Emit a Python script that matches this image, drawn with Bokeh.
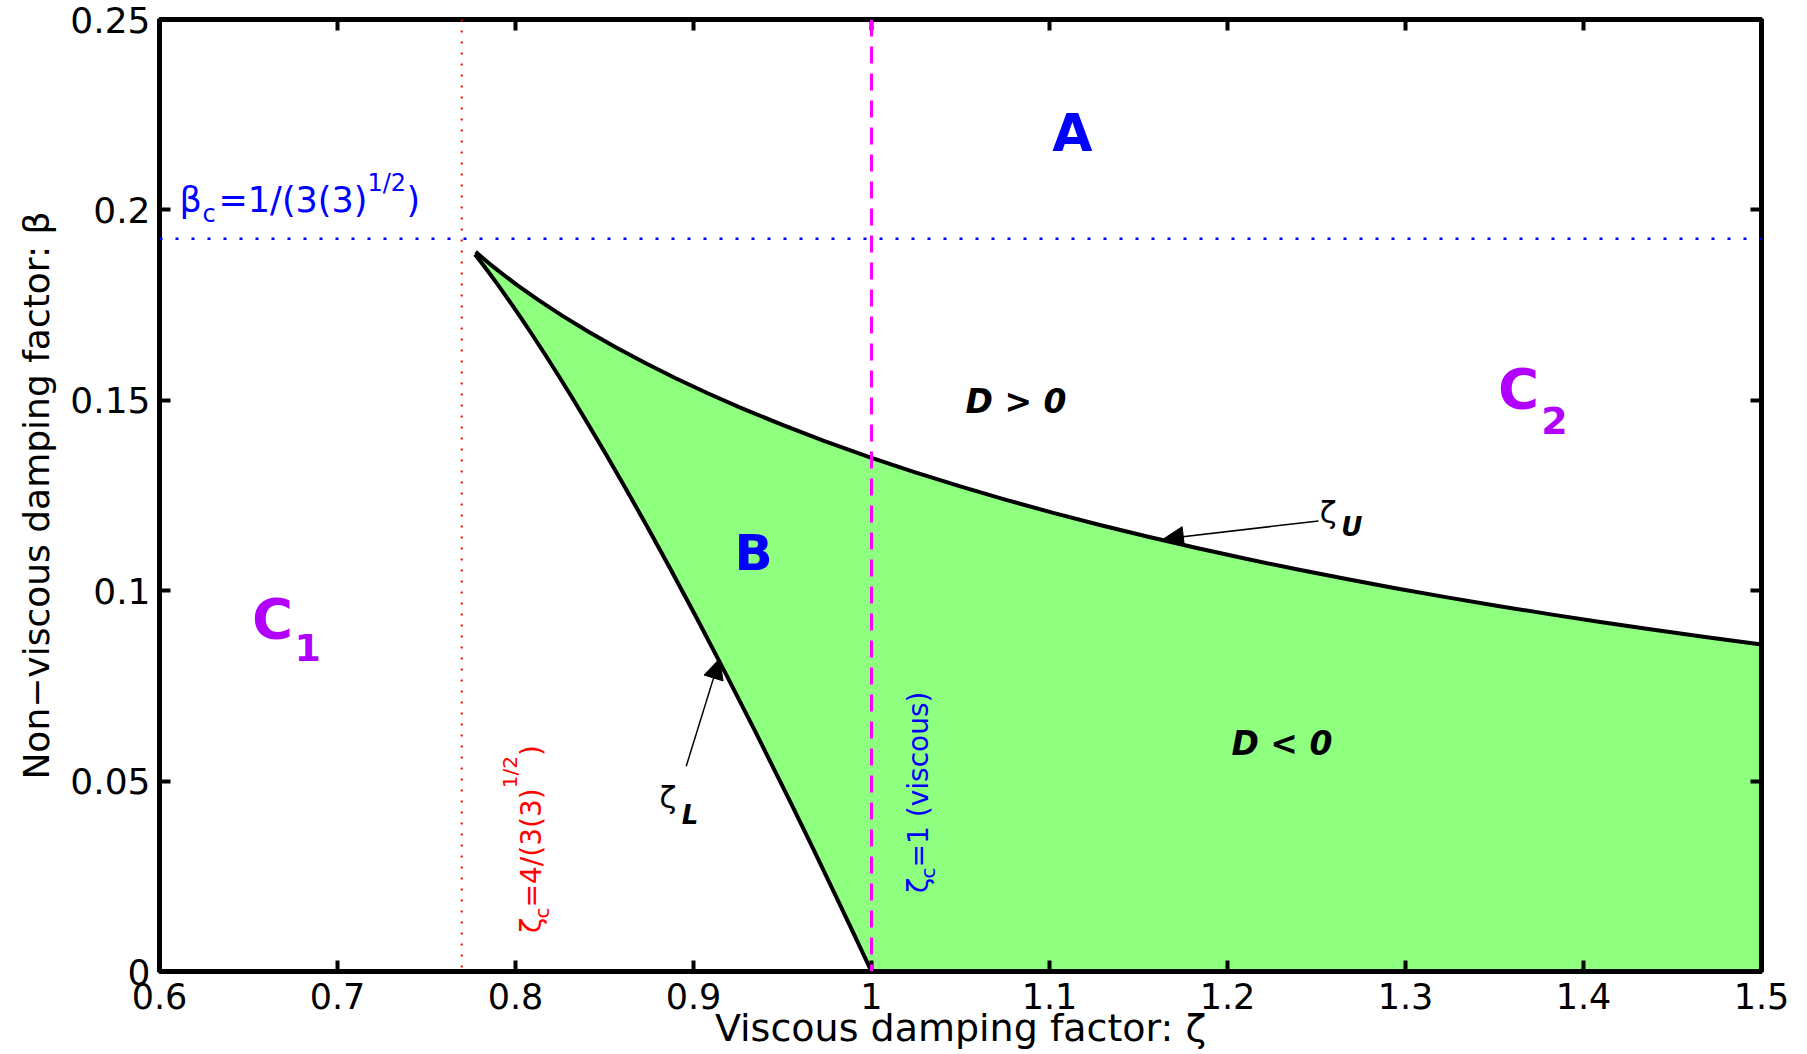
import math
from bokeh.plotting import figure
from bokeh.models import Range1d, LinearAxis, FixedTicker, Label, Arrow, NormalHead, Span
from bokeh.embed import file_html
from bokeh.resources import INLINE

# ---------------- data ----------------
# lower critical boundary zeta_L (from beta=0 at zeta=1 up to the cusp)
zeta_lower = [1.00000, 0.99020, 0.98078, 0.96733, 0.95467, 0.93511, 0.91737,
              0.90128, 0.88666, 0.87339, 0.86134, 0.85041, 0.84050, 0.83152,
              0.82341, 0.81608, 0.80948, 0.80355, 0.79825, 0.79352, 0.78934,
              0.78564, 0.78241, 0.77961, 0.77722]
beta_lower = [0.00000, 0.00975, 0.01903, 0.03212, 0.04427, 0.06264, 0.07889,
              0.09328, 0.10602, 0.11732, 0.12731, 0.13617, 0.14400, 0.15092,
              0.15703, 0.16242, 0.16715, 0.17130, 0.17493, 0.17809, 0.18082,
              0.18317, 0.18519, 0.18689, 0.18831]
# upper critical boundary zeta_U (from the cusp to zeta=1.5)
zeta_upper = [0.77763, 0.78125, 0.78542, 0.79009, 0.80075, 0.81294, 0.82642,
              0.84100, 0.85653, 0.87289, 0.88996, 0.90767, 0.92593, 0.94961,
              0.97363, 0.99840, 1.02369, 1.04943, 1.07557, 1.10208, 1.12891,
              1.15602, 1.18340, 1.21102, 1.23885, 1.26689, 1.29510, 1.32347,
              1.35200, 1.38067, 1.40946, 1.43839, 1.46741, 1.50000]
beta_upper = [0.18898, 0.18750, 0.18586, 0.18411, 0.18032, 0.17630, 0.17216,
              0.16800, 0.16386, 0.15978, 0.15580, 0.15191, 0.14815, 0.14361,
              0.13928, 0.13514, 0.13120, 0.12744, 0.12385, 0.12044, 0.11719,
              0.11409, 0.11113, 0.10832, 0.10562, 0.10305, 0.10060, 0.09825,
              0.09600, 0.09385, 0.09178, 0.08980, 0.08790, 0.08590]

zeta_c_nonviscous = 0.7698   # 4/(3*sqrt(3))
zeta_c_viscous = 1.0
beta_c = 0.19245             # 1/(3*sqrt(3))

x_ticks = [0.6, 0.7, 0.8, 0.9, 1.0, 1.1, 1.2, 1.3, 1.4, 1.5]
x_tick_labels = ["0.6", "0.7", "0.8", "0.9", "1", "1.1", "1.2", "1.3", "1.4", "1.5"]
y_ticks = [0.0, 0.05, 0.1, 0.15, 0.2, 0.25]
y_tick_labels = ["0", "0.05", "0.1", "0.15", "0.2", "0.25"]

FONT = "DejaVu Sans"
GREEN = "#8FFF80"
PURPLE = "#B200FF"

p = figure(width=1807, height=1054,
           x_range=Range1d(0.6, 1.5), y_range=Range1d(0.0, 0.25),
           output_backend="svg", toolbar_location=None,
           min_border_left=159, min_border_right=46,
           min_border_top=19, min_border_bottom=83,
           x_axis_label="Viscous damping factor: \u03b6",
           y_axis_label="Non\u2212viscous damping factor: \u03b2")
p.grid.visible = False
p.background_fill_color = "white"
p.border_fill_color = "white"
p.outline_line_color = "black"
p.outline_line_width = 5

# green region B (between the two boundaries, up to zeta = 1.5)
region_x = zeta_lower + zeta_upper + [zeta_upper[-1]]
region_y = beta_lower + beta_upper + [0.0]
p.patch(region_x, region_y, fill_color=GREEN, line_color=None)

# reference lines
p.add_layout(Span(location=zeta_c_nonviscous, dimension="height", line_color="red",
                  line_dash="2 9", line_width=2))
p.add_layout(Span(location=beta_c, dimension="width", line_color="blue",
                  line_dash="3 13", line_width=2.5))
p.add_layout(Span(location=zeta_c_viscous, dimension="height", line_color="#FF00FF",
                  line_dash="17 10", line_width=3))

# boundaries
p.line(zeta_lower, beta_lower, line_color="black", line_width=4, line_join="round")
p.line(zeta_upper, beta_upper, line_color="black", line_width=4, line_join="round")

# ---------------- axes ----------------
xo = dict(zip(x_ticks, x_tick_labels))
yo = dict(zip(y_ticks, y_tick_labels))

def style_axis(ax, ticks, overrides, label_size):
    ax.ticker = FixedTicker(ticks=ticks)
    ax.major_label_overrides = overrides
    ax.major_tick_in = 11
    ax.major_tick_out = 0
    ax.minor_tick_line_color = None
    ax.major_tick_line_width = 4
    ax.major_tick_line_color = "black"
    ax.axis_line_width = 5
    ax.axis_line_color = "black"
    ax.major_label_text_font = FONT
    ax.major_label_text_font_size = label_size
    ax.major_label_text_color = "black"

xa = p.xaxis[0]
style_axis(xa, x_ticks, xo, "35px")
xa.major_label_standoff = 11
xa.axis_label_text_font = FONT
xa.axis_label_text_font_size = "38px"
xa.axis_label_text_font_style = "normal"
xa.axis_label_text_color = "black"
xa.axis_label_standoff = -6

ya = p.yaxis[0]
style_axis(ya, y_ticks, yo, "36px")
ya.major_label_standoff = 9
ya.axis_label_text_font = FONT
ya.axis_label_text_font_size = "36px"
ya.axis_label_text_font_style = "normal"
ya.axis_label_text_color = "black"
ya.axis_label_standoff = 10

top = LinearAxis()
style_axis(top, x_ticks, {t: "" for t in x_ticks}, "8px")
top.major_label_standoff = 0
p.add_layout(top, "above")
right = LinearAxis()
style_axis(right, y_ticks, {t: "" for t in y_ticks}, "8px")
right.major_label_standoff = 0
p.add_layout(right, "right")

# ---------------- annotations ----------------
def lab(x, y, text, size, color="black", style="normal", align="center",
        baseline="middle", angle=0.0):
    p.add_layout(Label(x=x, y=y, text=text, text_font=FONT, text_font_size=size,
                       text_color=color, text_font_style=style, text_align=align,
                       text_baseline=baseline, angle=angle))

# region letters
lab(1.1129, 0.2202, "A", "52px", "blue", "bold")
lab(0.9337, 0.1099, "B", "50px", "blue", "bold")
lab(0.6635, 0.0928, "C", "56px", PURPLE, "bold")
lab(0.6832, 0.0852, "1", "38px", PURPLE, "bold")
lab(1.3635, 0.1530, "C", "56px", PURPLE, "bold")
lab(1.3837, 0.1448, "2", "38px", PURPLE, "bold")
lab(1.0812, 0.1498, "D > 0", "33px", "black", "bold italic")
lab(1.2306, 0.0599, "D < 0", "33px", "black", "bold italic")

# zeta_U and zeta_L labels
lab(1.2565, 0.1207, "\u03b6", "31px")
lab(1.2699, 0.1166, "U", "26px", "black", "bold italic")
lab(0.8857, 0.0457, "\u03b6", "31px")
lab(0.8980, 0.0412, "L", "26px", "black", "bold italic")

# beta_c label (horizontal)
lab(0.61124, 0.20262, "\u03b2", "35px", "blue", align="left", baseline="alphabetic")
lab(0.62416, 0.19894, "c", "24px", "blue", align="left", baseline="alphabetic")
lab(0.63315, 0.20262, "=1/(3(3)", "35px", "blue", align="left", baseline="alphabetic")
lab(0.71685, 0.20709, "1/2", "24px", "blue", align="left", baseline="alphabetic")
lab(0.73876, 0.20262, ")", "35px", "blue", align="left", baseline="alphabetic")

# rotated zeta_c labels
rot = math.pi / 2
lab(0.80899, 0.01011, "\u03b6", "28px", "red", align="left", baseline="alphabetic", angle=rot)
lab(0.81461, 0.01395, "c", "20px", "red", align="left", baseline="alphabetic", angle=rot)
lab(0.80899, 0.01683, "=4/(3(3)", "28px", "red", align="left", baseline="alphabetic", angle=rot)
lab(0.79663, 0.04811, "1/2", "20px", "red", align="left", baseline="alphabetic", angle=rot)
lab(0.80899, 0.05657, ")", "28px", "red", align="left", baseline="alphabetic", angle=rot)

lab(1.02640, 0.02062, "\u03b6", "28px", "blue", align="left", baseline="alphabetic", angle=rot)
lab(1.03202, 0.02445, "c", "20px", "blue", align="left", baseline="alphabetic", angle=rot)
lab(1.02640, 0.02734, "=1 (viscous)", "28px", "blue", align="left", baseline="alphabetic", angle=rot)

# arrows
p.add_layout(Arrow(end=NormalHead(size=20, fill_color="black", line_color="black"),
                   x_start=1.2511, y_start=0.1183, x_end=1.1640, y_end=0.1136,
                   line_color="black", line_width=1.5))
p.add_layout(Arrow(end=NormalHead(size=20, fill_color="black", line_color="black"),
                   x_start=0.8959, y_start=0.0539, x_end=0.9146, y_end=0.0821,
                   line_color="black", line_width=1.5))

open("out.html", "w").write(file_html(p, INLINE))
